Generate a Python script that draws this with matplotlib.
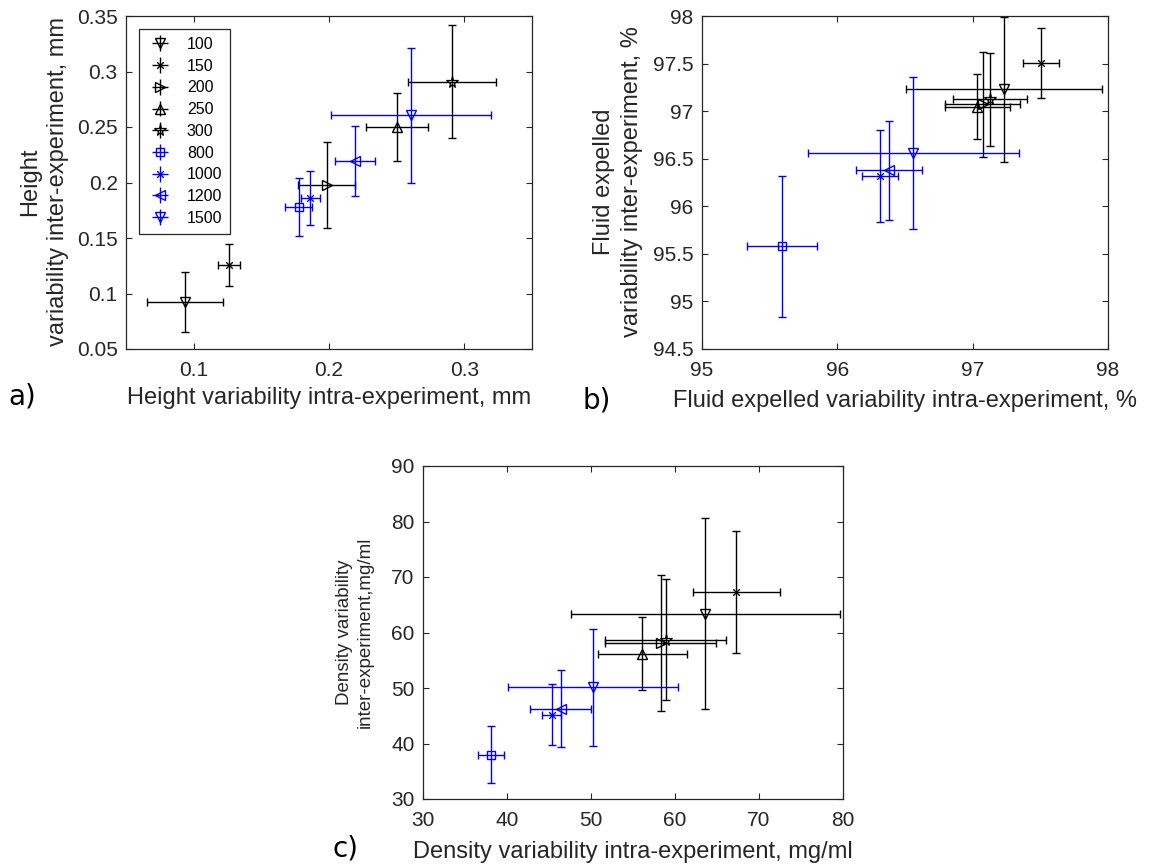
import matplotlib
matplotlib.use("Agg")
import matplotlib.pyplot as plt
from matplotlib.lines import Line2D

# series (legend order)
labels = ['100', '150', '200', '250', '300', '800', '1000', '1200', '1500']
series_colors = ['k', 'k', 'k', 'k', 'k', 'b', 'b', 'b', 'b']
series_markers = ['v', (8, 2, 0), '>', '^', '*', 's', (8, 2, 0), '<', 'v']

# a) height variability, mm
x_a = [0.0936, 0.1259, 0.1983, 0.2500, 0.2907, 0.1775, 0.1860, 0.2193, 0.2606]
y_a = [0.0926, 0.1257, 0.1977, 0.2503, 0.2908, 0.1782, 0.1858, 0.2194, 0.2605]
xerr_a = [0.028, 0.008, 0.021, 0.023, 0.0325, 0.010, 0.007, 0.015, 0.059]
yerr_a = [0.027, 0.019, 0.039, 0.0305, 0.051, 0.026, 0.0245, 0.0315, 0.061]

# b) fluid expelled variability, %
x_b = [97.232, 97.505, 97.074, 97.035, 97.128, 95.59, 96.318, 96.385, 96.56]
y_b = [97.23, 97.504, 97.073, 97.048, 97.126, 95.58, 96.32, 96.38, 96.558]
xerr_b = [0.723, 0.135, 0.275, 0.24, 0.276, 0.257, 0.133, 0.244, 0.78]
yerr_b = [0.76, 0.368, 0.55, 0.345, 0.49, 0.74, 0.48, 0.52, 0.80]

# c) density variability, mg/ml
x_c = [63.6, 67.3, 58.3, 56.1, 58.9, 38.1, 45.3, 46.4, 50.2]
y_c = [63.4, 67.3, 58.1, 56.2, 58.7, 38.0, 45.2, 46.3, 50.1]
xerr_c = [16.0, 5.2, 6.6, 5.3, 7.2, 1.6, 1.1, 3.65, 10.1]
yerr_c = [17.2, 11.0, 12.3, 6.6, 10.9, 5.2, 5.5, 7.0, 10.6]

# ticks
xticks_a = [0.1, 0.2, 0.3]
yticks_a = [0.05, 0.1, 0.15, 0.2, 0.25, 0.3, 0.35]
xticks_b = [95, 96, 97, 98]
yticks_b = [94.5, 95, 95.5, 96, 96.5, 97, 97.5, 98]
xticks_c = [30, 40, 50, 60, 70, 80]
yticks_c = [30, 40, 50, 60, 70, 80, 90]

AX_COL = '#262626'
plt.rcParams['font.family'] = ['Liberation Sans', 'DejaVu Sans']

W, H = 1150, 867
fig = plt.figure(figsize=(W / 100, H / 100), dpi=100)


def px_axes(left, top, right, bottom):
    return fig.add_axes([left / W, 1 - bottom / H, (right - left) / W, (bottom - top) / H])


def marker_style(i):
    m = series_markers[i]
    if m == 's':
        return dict(ms=5.5, mew=1.0)
    if m == (8, 2, 0):
        return dict(ms=6.5, mew=0.7)
    if m == '*':
        return dict(ms=8.5, mew=0.9)
    return dict(ms=7, mew=1.0)


def draw_panel(ax, xs, ys, xe, ye, xlim, ylim, xt, yt):
    for i in range(len(labels)):
        ax.errorbar(xs[i], ys[i], xerr=xe[i], yerr=ye[i], fmt='none',
                    ecolor=series_colors[i], elinewidth=1.0, capsize=3, capthick=1.0)
        ax.plot(xs[i], ys[i], linestyle='none', marker=series_markers[i],
                mfc='none', mec=series_colors[i], **marker_style(i))
    ax.set_xlim(*xlim)
    ax.set_ylim(*ylim)
    ax.set_xticks(xt)
    ax.set_yticks(yt)
    ax.set_xticklabels(['%g' % v for v in xt])
    ax.set_yticklabels(['%g' % v for v in yt])
    ax.tick_params(direction='in', top=True, right=True, length=4, width=0.8,
                   color=AX_COL, labelcolor=AX_COL, labelsize=15)
    ax.tick_params(axis='x', pad=9)
    ax.tick_params(axis='y', pad=6)
    for s in ax.spines.values():
        s.set_color(AX_COL)
        s.set_linewidth(0.9)


ax_a = px_axes(126, 16, 532, 349)
draw_panel(ax_a, x_a, y_a, xerr_a, yerr_a, (0.05, 0.35), (0.05, 0.35), xticks_a, yticks_a)

# legend: error bar + open marker for each series
leg_handles = []
for i in range(len(labels)):
    eb = ax_a.errorbar([], [], xerr=[], yerr=[], fmt='none', ecolor=series_colors[i],
                       elinewidth=1.0, capsize=3)
    mk = Line2D([], [], linestyle='none', marker=series_markers[i],
                mfc='none', mec=series_colors[i], **marker_style(i))
    leg_handles.append((eb, mk))
leg = ax_a.legend(leg_handles, labels, loc='upper left', bbox_to_anchor=(0.032, 0.961),
                  borderaxespad=0, fontsize=11.5, frameon=True, fancybox=False,
                  edgecolor=AX_COL, framealpha=1, handlelength=1.6, handletextpad=0.9,
                  labelspacing=0.42, borderpad=0.5)
leg.get_frame().set_linewidth(0.9)

ax_b = px_axes(702, 16, 1108, 349)
draw_panel(ax_b, x_b, y_b, xerr_b, yerr_b, (95, 98), (94.5, 98), xticks_b, yticks_b)

ax_c = px_axes(423, 466, 843, 799)
draw_panel(ax_c, x_c, y_c, xerr_c, yerr_c, (30, 80), (30, 90), xticks_c, yticks_c)


def ftext(x, y, s, **kw):
    fig.text(x / W, 1 - y / H, s, ha='center', va='center', color=AX_COL, **kw)


ftext(329, 398, 'Height variability intra-experiment, mm', fontsize=17)
ftext(905, 401, 'Fluid expelled variability intra-experiment, %', fontsize=17)
ftext(633, 852, 'Density variability intra-experiment, mg/ml', fontsize=17)
ftext(44, 182, 'Height\nvariability inter-experiment, mm', fontsize=17, rotation=90,
      linespacing=1.35, multialignment='center')
ftext(618, 182, 'Fluid expelled\nvariability inter-experiment, %', fontsize=17, rotation=90,
      linespacing=1.35, multialignment='center')
ftext(355, 632, 'Density variability\ninter-experiment,mg/ml', fontsize=13.5, rotation=90,
      linespacing=1.3, multialignment='center')

for lab, (x, y) in zip(['a)', 'b)', 'c)'], [(22, 396), (597, 400), (345, 849)]):
    fig.text(x / W, 1 - y / H, lab, ha='center', va='center', fontsize=20,
             family='DejaVu Sans', color='k')

fig.savefig('out.png', dpi=100)
